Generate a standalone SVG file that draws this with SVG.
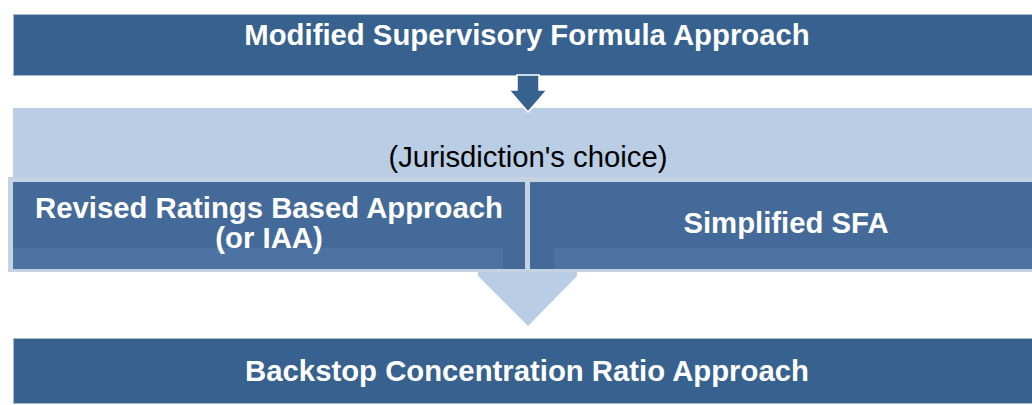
<svg xmlns="http://www.w3.org/2000/svg" width="1032" height="405" viewBox="0 0 1032 405">
<style>
.dark{fill:#37618F;stroke:#A9B8CC;stroke-width:1}
.box{fill:#446A99}
.hl{fill:#4C73A2}
.t{font-family:"Liberation Sans",Arial,sans-serif;font-weight:bold;font-size:29.3px;fill:#FFFFFF;text-anchor:middle}
.n{font-family:"Liberation Sans",Arial,sans-serif;font-size:29.3px;fill:#000000;text-anchor:middle}
</style>
<rect width="1032" height="405" fill="#FFFFFF"/>
<g id="msfa">
<rect class="dark" x="13.5" y="14.5" width="1030" height="61"/>
<text class="t" x="527" y="45">Modified Supervisory Formula Approach</text>
</g>
<g id="choice">
<rect x="13" y="108" width="1019" height="72" fill="#B9CDE5"/>
<text class="n" x="528" y="167">(Jurisdiction's choice)</text>
</g>
<g id="connectors">
<polygon points="478,270 577,270 577,276 528,326 478,276" fill="#B9CDE5"/>
<polygon points="517,75 539,75 539,90 547,90 528,112 509,90 517,90" fill="#37618F" stroke="#FFFFFF" stroke-width="1.5" stroke-linejoin="miter"/>
</g>
<g id="rrba">
<rect x="8" y="177" width="521" height="95" fill="#C5D2E3"/>
<rect class="box" x="13" y="182" width="512" height="87"/>
<rect class="hl" x="13" y="248" width="490" height="21"/>
<text class="t" x="269" y="218">Revised Ratings Based Approach</text>
<text class="t" x="269" y="248">(or IAA)</text>
</g>
<g id="ssfa">
<rect x="526" y="177" width="506" height="95" fill="#C5D2E3"/>
<rect class="box" x="530" y="182" width="502" height="87"/>
<rect class="hl" x="554" y="248" width="478" height="21"/>
<text class="t" x="786" y="233">Simplified SFA</text>
</g>
<g id="bcra">
<rect class="dark" x="13.5" y="338.5" width="1030" height="65"/>
<text class="t" x="527" y="381">Backstop Concentration Ratio Approach</text>
</g>
</svg>
